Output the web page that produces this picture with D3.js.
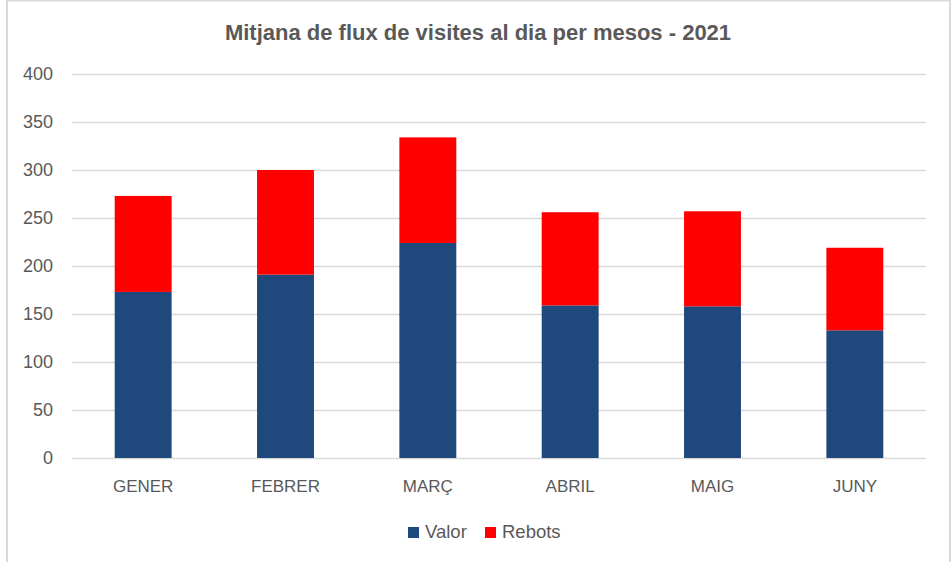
<!DOCTYPE html>
<html>
<head>
<meta charset="utf-8">
<script src="https://cdn.jsdelivr.net/npm/d3@7"></script>
<style>
  body { margin: 0; background: #fff; }
  text { font-family: "Liberation Sans", Arial, sans-serif; fill: #595959; }
</style>
</head>
<body>
<div id="chart"></div>
<script>
// stacked bar chart: visites per mes
var months = ["GENER", "FEBRER", "MARÇ", "ABRIL", "MAIG", "JUNY"];
var valor = [173, 191, 224, 159, 158, 133];
var rebots = [100, 109, 110, 97, 99, 86];
var seriesNames = ["Valor", "Rebots"];
var colors = ["#1F497D", "#FF0000"];
var yTicks = [0, 50, 100, 150, 200, 250, 300, 350, 400];

var svgWidth = 952;
var svgHeight = 562;
var margin = { top: 74, right: 26, bottom: 104, left: 72 };
var width = svgWidth - margin.left - margin.right;
var height = svgHeight - margin.top - margin.bottom;

var svg = d3.select("#chart")
    .append("svg")
    .attr("width", svgWidth)
    .attr("height", svgHeight);

// chart frame
svg.append("rect")
    .attr("x", 7).attr("y", 0.5)
    .attr("width", 943).attr("height", 580)
    .attr("fill", "none")
    .attr("stroke", "#d9d9d9")
    .attr("stroke-width", 2);

var chartGroup = svg.append("g")
    .attr("transform", `translate(${margin.left},${margin.top})`);

var rows = months.map(function(m, i) {
    return { month: m, Valor: valor[i], Rebots: rebots[i] };
});
var stacked = d3.stack().keys(seriesNames)(rows);

var xScale = d3.scaleBand()
    .domain(months)
    .range([0, width])
    .paddingInner(0.6)
    .paddingOuter(0.3);
var yScale = d3.scaleLinear()
    .domain([0, 400])
    .range([height, 0]);

// gridlines
chartGroup.append("g")
    .selectAll("line")
    .data(yTicks)
    .enter()
    .append("line")
    .attr("x1", 0)
    .attr("x2", width)
    .attr("y1", d => Math.round(yScale(d)) + 0.5)
    .attr("y2", d => Math.round(yScale(d)) + 0.5)
    .attr("stroke", "#d9d9d9")
    .attr("stroke-width", 1.5);

// bars
chartGroup.selectAll("g.series")
    .data(stacked)
    .enter()
    .append("g")
    .attr("class", "series")
    .attr("fill", (d, i) => colors[i])
    .selectAll("rect")
    .data(d => d)
    .enter()
    .append("rect")
    .attr("x", d => xScale(d.data.month))
    .attr("width", xScale.bandwidth())
    .attr("y", d => yScale(d[1]))
    .attr("height", d => yScale(d[0]) - yScale(d[1]));

// y axis
var yAxis = d3.axisLeft(yScale).tickValues(yTicks).tickSize(0).tickPadding(19);
var yG = chartGroup.append("g").call(yAxis);
yG.select(".domain").remove();
yG.selectAll("text")
    .style("font-size", "18px")
    .attr("fill", "#595959");

// x axis
var xAxis = d3.axisBottom(xScale).tickSize(0).tickPadding(22);
var xG = chartGroup.append("g")
    .attr("transform", `translate(0,${height})`)
    .call(xAxis);
xG.select(".domain").remove();
xG.selectAll("text")
    .style("font-size", "17px")
    .attr("fill", "#595959");

// title
svg.append("text")
    .attr("x", 478)
    .attr("y", 40)
    .attr("text-anchor", "middle")
    .style("font-size", "22px")
    .style("font-weight", "bold")
    .text("Mitjana de flux de visites al dia per mesos - 2021");

// legend
var legend = svg.append("g")
    .attr("transform", "translate(408,526)");
var legendX = [0, 77];
seriesNames.forEach(function(name, i) {
    legend.append("rect")
        .attr("x", legendX[i])
        .attr("y", 1)
        .attr("width", 11)
        .attr("height", 11)
        .attr("fill", colors[i]);
    legend.append("text")
        .attr("x", legendX[i] + 17)
        .attr("y", 12)
        .style("font-size", "18.5px")
        .text(name);
});
</script>
</body>
</html>
